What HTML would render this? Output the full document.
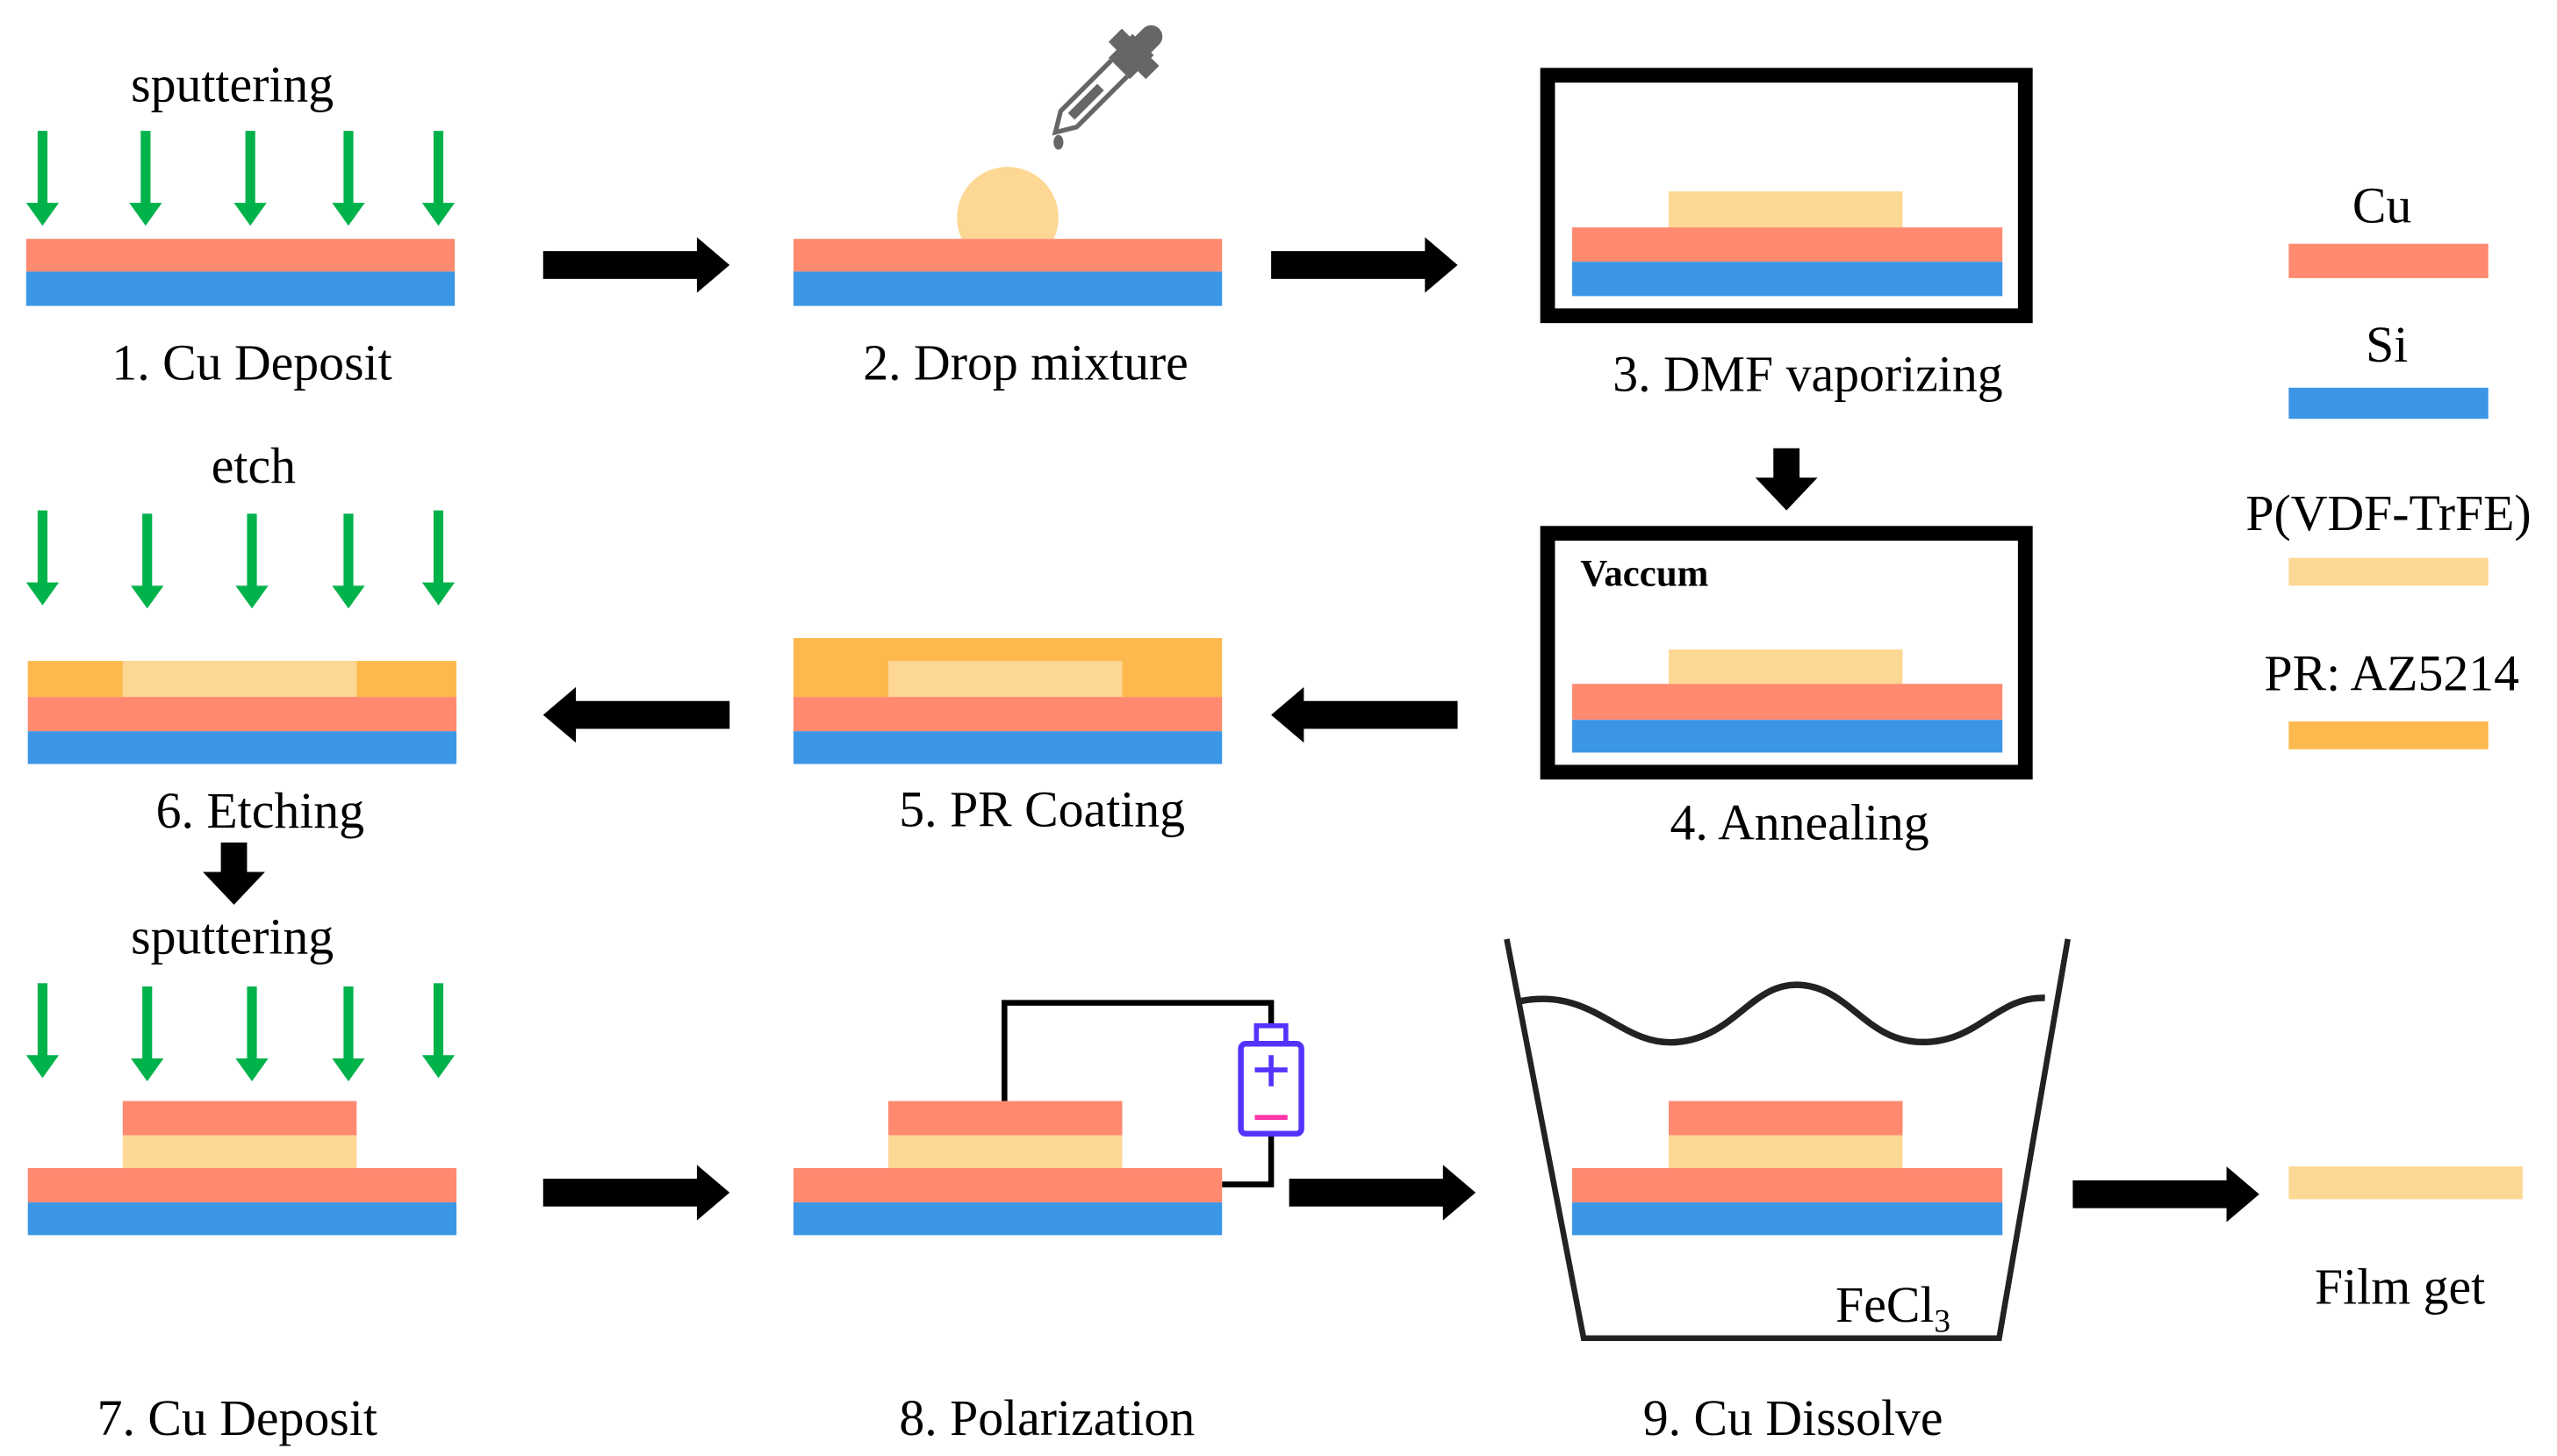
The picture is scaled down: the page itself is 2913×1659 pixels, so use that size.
<!DOCTYPE html>
<html><head><meta charset="utf-8"><style>
html,body{margin:0;padding:0;background:#fff;overflow:hidden}
svg{display:block}
</style></head><body>
<svg width="2913" height="1659" viewBox="0 0 1563 890" preserveAspectRatio="none" xmlns="http://www.w3.org/2000/svg">
<defs>
<g id="ga"><rect x="-3" y="0" width="6" height="46" fill="#00B24A"/><polygon points="-10,44 10,44 0,58" fill="#00B24A"/></g>
<g id="ra"><rect x="0" y="-8.5" width="96" height="17" fill="#000"/><polygon points="94,-17 114,0 94,17" fill="#000"/></g>
<g id="la"><rect x="18" y="-8.5" width="96" height="17" fill="#000"/><polygon points="20,-17 0,0 20,17" fill="#000"/></g>
<g id="da"><rect x="-8" y="0" width="16" height="20" fill="#000"/><polygon points="-19,18 19,18 0,38" fill="#000"/></g>
</defs>
<g font-size="31" font-family="'Liberation Serif', 'Times New Roman', serif" fill="#000">
<!-- Panel 1 -->
<text x="142" y="62" text-anchor="middle">sputtering</text>
<use href="#ga" x="26" y="80"/><use href="#ga" x="89" y="80"/><use href="#ga" x="153" y="80"/><use href="#ga" x="213" y="80"/><use href="#ga" x="268" y="80"/>
<rect x="16" y="146" width="262" height="20" fill="#FF8A70"/><rect x="16" y="166" width="262" height="21" fill="#3B96E6"/>
<text x="154" y="232" text-anchor="middle">1. Cu Deposit</text>
<use href="#ra" x="332" y="162"/>
<!-- Panel 2 -->
<clipPath id="cp"><rect x="480" y="80" width="300" height="66"/></clipPath>
<ellipse cx="616" cy="133" rx="31" ry="31" fill="#FDD794" clip-path="url(#cp)"/>
<rect x="485" y="146" width="262" height="20" fill="#FF8A70"/><rect x="485" y="166" width="262" height="21" fill="#3B96E6"/>
<g transform="translate(676,50) rotate(45) scale(1.15)" fill="#666">
<rect x="-6" y="-40" width="12" height="18" rx="6"/>
<rect x="-14" y="-26" width="28" height="10"/>
<rect x="-8" y="-28" width="16" height="18"/>
<path d="M-6,-10 L-6,28 L0,38 L6,28 L6,-10" fill="none" stroke="#666" stroke-width="2.5"/>
<rect x="-2.5" y="4" width="5" height="22"/>
</g>
<ellipse cx="647" cy="87" rx="3" ry="4.5" fill="#666"/>
<text x="627" y="232" text-anchor="middle">2. Drop mixture</text>
<use href="#ra" x="777" y="162"/>
<!-- Panel 3 -->
<rect x="946" y="46" width="292" height="147" fill="none" stroke="#000" stroke-width="9"/>
<rect x="1020" y="117" width="143" height="22" fill="#FDD794"/>
<rect x="961" y="139" width="263" height="21" fill="#FF8A70"/><rect x="961" y="160" width="263" height="21" fill="#3B96E6"/>
<text x="1105" y="239" text-anchor="middle">3. DMF vaporizing</text>
<use href="#da" x="1092" y="274"/>
<!-- Panel 4 -->
<rect x="946" y="326" width="292" height="146" fill="none" stroke="#000" stroke-width="9"/>
<text x="966" y="358" font-size="23" font-weight="bold">Vaccum</text>
<rect x="1020" y="397" width="143" height="21" fill="#FDD794"/>
<rect x="961" y="418" width="263" height="22" fill="#FF8A70"/><rect x="961" y="440" width="263" height="20" fill="#3B96E6"/>
<text x="1100" y="513" text-anchor="middle">4. Annealing</text>
<!-- Legend -->
<text x="1456" y="136" text-anchor="middle">Cu</text>
<rect x="1399" y="149" width="122" height="21" fill="#FF8A70"/>
<text x="1459" y="221" text-anchor="middle">Si</text>
<rect x="1399" y="237" width="122" height="19" fill="#3B96E6"/>
<text x="1460" y="324" text-anchor="middle">P(VDF-TrFE)</text>
<rect x="1399" y="341" width="122" height="17" fill="#FDD794"/>
<text x="1462" y="422" text-anchor="middle">PR: AZ5214</text>
<rect x="1399" y="441" width="122" height="17" fill="#FDB94D"/>
<!-- Row 2 arrows -->
<use href="#la" x="777" y="437"/>
<use href="#la" x="332" y="437"/>
<!-- Panel 5 -->
<rect x="485" y="390" width="262" height="36" fill="#FDB94D"/>
<rect x="543" y="404" width="143" height="22" fill="#FDD794"/>
<rect x="485" y="426" width="262" height="21" fill="#FF8A70"/><rect x="485" y="447" width="262" height="20" fill="#3B96E6"/>
<text x="637" y="505" text-anchor="middle">5. PR Coating</text>
<!-- Panel 6 -->
<text x="155" y="295" text-anchor="middle">etch</text>
<use href="#ga" x="26" y="312"/><use href="#ga" x="90" y="314"/><use href="#ga" x="154" y="314"/><use href="#ga" x="213" y="314"/><use href="#ga" x="268" y="312"/>
<rect x="17" y="404" width="262" height="22" fill="#FDB94D"/>
<rect x="75" y="404" width="143" height="22" fill="#FDD794"/>
<rect x="17" y="426" width="262" height="21" fill="#FF8A70"/><rect x="17" y="447" width="262" height="20" fill="#3B96E6"/>
<text x="159" y="506" text-anchor="middle">6. Etching</text>
<use href="#da" x="143" y="515"/>
<!-- Panel 7 -->
<text x="142" y="583" text-anchor="middle">sputtering</text>
<use href="#ga" x="26" y="601"/><use href="#ga" x="90" y="603"/><use href="#ga" x="154" y="603"/><use href="#ga" x="213" y="603"/><use href="#ga" x="268" y="601"/>
<rect x="75" y="673" width="143" height="21" fill="#FF8A70"/><rect x="75" y="694" width="143" height="20" fill="#FDD794"/>
<rect x="17" y="714" width="262" height="21" fill="#FF8A70"/><rect x="17" y="735" width="262" height="20" fill="#3B96E6"/>
<text x="145" y="877" text-anchor="middle">7. Cu Deposit</text>
<use href="#ra" x="332" y="729"/>
<!-- Panel 8 -->
<path d="M614,673 L614,613 L777,613 L777,627" fill="none" stroke="#000" stroke-width="3.5"/>
<path d="M777,694 L777,724 L747,724" fill="none" stroke="#000" stroke-width="3.5"/>
<rect x="543" y="673" width="143" height="21" fill="#FF8A70"/><rect x="543" y="694" width="143" height="20" fill="#FDD794"/>
<rect x="485" y="714" width="262" height="21" fill="#FF8A70"/><rect x="485" y="735" width="262" height="20" fill="#3B96E6"/>
<rect x="768" y="627" width="18" height="11" fill="#fff" stroke="#5533FF" stroke-width="3"/>
<rect x="758.5" y="638" width="37" height="55" rx="3" fill="#fff" stroke="#5533FF" stroke-width="3.5"/>
<path d="M767,654 L787,654 M777,645 L777,664" stroke="#5533FF" stroke-width="3"/>
<path d="M767,683 L787,683" stroke="#FF33AA" stroke-width="3"/>
<text x="640" y="877" text-anchor="middle">8. Polarization</text>
<use href="#ra" x="788" y="729"/>
<!-- Panel 9 -->
<path d="M921,574 L968,818 L1222,818 L1264,574" fill="none" stroke="#222" stroke-width="3.5"/>
<path d="M929,612 C975,603 990,640 1025,637 C1060,634 1070,602 1098,602 C1130,602 1140,637 1175,637 C1210,637 1220,609 1250,610" fill="none" stroke="#222" stroke-width="4"/>
<rect x="1020" y="673" width="143" height="21" fill="#FF8A70"/><rect x="1020" y="694" width="143" height="20" fill="#FDD794"/>
<rect x="961" y="714" width="263" height="21" fill="#FF8A70"/><rect x="961" y="735" width="263" height="20" fill="#3B96E6"/>
<text x="1122" y="808">FeCl<tspan font-size="20" dy="6">3</tspan></text>
<text x="1096" y="877" text-anchor="middle">9. Cu Dissolve</text>
<use href="#ra" x="1267" y="730"/>
<rect x="1399" y="713" width="143" height="20" fill="#FDD794"/>
<text x="1467" y="797" text-anchor="middle">Film get</text>
</g>
</svg>
</body></html>
